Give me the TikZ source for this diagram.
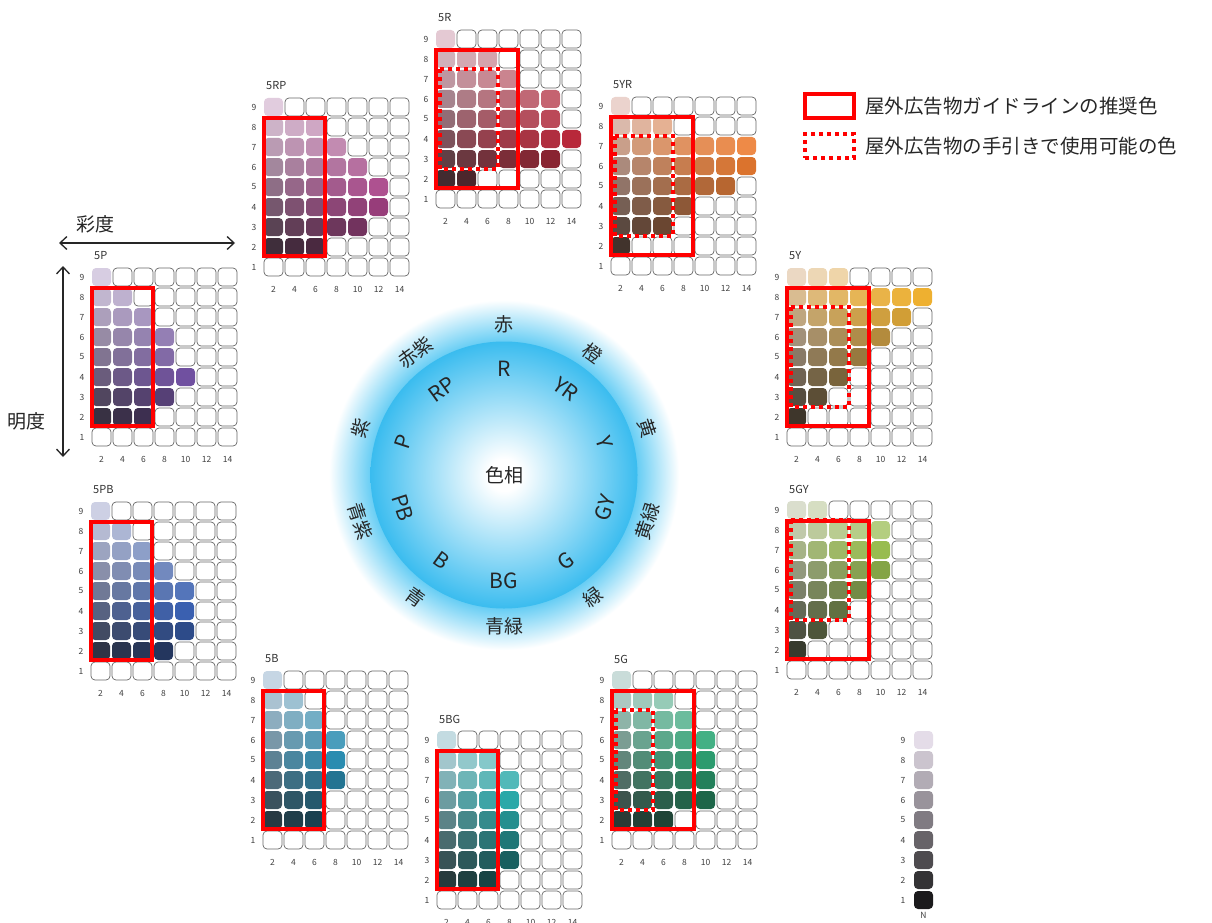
\documentclass[tikz,border=0pt]{standalone}
\usepackage{fontspec}
\setmainfont{Noto Sans CJK JP}
\usepackage{tikz}
\usetikzlibrary{positioning,arrows.meta}

\definecolor{lav}{HTML}{E4DCE8}
\definecolor{hR}{HTML}{B8283A}
\definecolor{hYR}{HTML}{EC7C30}
\definecolor{hY}{HTML}{EEB030}
\definecolor{hGY}{HTML}{98BC50}
\definecolor{hG}{HTML}{30A878}
\definecolor{hBG}{HTML}{2AA8A8}
\definecolor{hB}{HTML}{2A8CB0}
\definecolor{hPB}{HTML}{3A60B0}
\definecolor{hP}{HTML}{7050A0}
\definecolor{hRP}{HTML}{A84488}
\definecolor{skyedge}{HTML}{3ABCEF}
\definecolor{skyring}{HTML}{66CDF4}

\pgfdeclareradialshading{glowring}{\pgfpoint{0bp}{0bp}}{color(0bp)=(skyring); color(19bp)=(skyring); color(25bp)=(white); color(50bp)=(white)}
\pgfdeclareradialshading{wheelfill}{\pgfpoint{0bp}{0bp}}{color(0bp)=(white); color(3bp)=(white); color(25bp)=(skyedge); color(50bp)=(skyedge)}

% #1 name, #2 #3 grid corner, #4 hue, #5 value of strongest chip, #6 top chroma, #7 value/reach
\newcommand{\huechart}[7]{%
  \begin{scope}[shift={(#2,-#3)}]
    \node[chartname] (#1) at (3,11) {#1};
    \foreach \val/\reach in {#7} {
      \node[axisnum] (#1-n\val) at (-9,{-20*(9-\val)-10}) {\val};
      \foreach \i in {1,...,7} {
        \pgfmathtruncatemacro\c{2*\i}
        \ifnum\c>\reach
          \node[blank] (#1-\val-\c) at ({21*\i-10.5},{-20*(9-\val)-10}) {};
        \else
          \pgfmathsetmacro\ex{\val>6 ? 0.48 : 0.65}
          \pgfmathtruncatemacro\p{100*(\c/#6)^\ex}
          \pgfmathtruncatemacro\g{min(100,11*\val+1)}
          \colorlet{nv}{lav!\g!black}
          \ifdim\val pt<#5pt
            \pgfmathtruncatemacro\q{100-(#5-\val)/#5*85}
            \colorlet{hv}{#4!\q!black}
          \else
            \pgfmathtruncatemacro\q{100-(\val-#5)/(9.6-#5)*68}
            \colorlet{hv}{#4!\q!white}
          \fi
          \colorlet{cellcol}{hv!\p!nv}
          \node[chip, fill=cellcol] (#1-\val-\c) at ({21*\i-10.5},{-20*(9-\val)-10}) {};
        \fi
      }
    }
    \foreach \i in {1,...,7} {
      \pgfmathtruncatemacro\c{2*\i}
      \node[axisnum] (#1-b\c) at ({21*\i-10.5},-192) {\c};
    }
  \end{scope}
}

\begin{document}
\begin{tikzpicture}[x=1pt, y=1pt,
  chip/.style={rectangle, rounded corners=4pt, minimum width=19pt, minimum height=18pt, inner sep=0pt, outer sep=0pt},
  blank/.style={chip, draw=black!60, line width=0.7pt, fill=white},
  axisnum/.style={inner sep=0pt, text=black!75, font=\fontsize{8.5}{9}\selectfont},
  chartname/.style={anchor=west, inner sep=0pt, text=black!80, font=\fontsize{11}{12}\selectfont},
  guide/.style={draw=red, line width=4.5pt},
  allowed/.style={draw=red, line width=4pt, dash pattern=on 4pt off 4pt},
  huelabel/.style={inner sep=0pt, text=black!85, font=\fontsize{21}{22}\selectfont},
  namelabel/.style={inner sep=0pt, text=black!85, font=\fontsize{19}{20}\selectfont},
  keytext/.style={inner sep=0pt, text=black!85, font=\fontsize{19.5}{20}\selectfont},
  axisarrow/.style={<->, >={Straight Barb[length=7pt,width=13pt]}, line width=1.3pt, draw=black!85},
]
  \fill[white] (0,0) rectangle (1212,-923);
  \useasboundingbox (0,0) rectangle (1212,-923);

  \node[circle, minimum size=350pt, inner sep=0pt, shading=glowring] (glow) at (504,-475) {};
  \node[circle, minimum size=267pt, inner sep=0pt, shading=wheelfill] (wheel) at (glow.center) {};
  \node[namelabel] (hue-title) at (wheel.center) {色相};
  \foreach \ang/\en/\jp in {90/R/赤, 54/YR/橙, 18/Y/黄, -18/GY/黄緑, -54/G/緑,
                            -90/BG/青緑, -126/B/青, -162/PB/青紫, 162/P/紫, 126/RP/赤紫} {
    \pgfmathsetmacro\rot{\ang>0 ? \ang-90 : \ang+90}
    \node[huelabel, rotate=\rot] (hue-\en) at ([shift={(\ang:106)}]wheel.center) {\en};
    \node[namelabel, rotate=\rot] (name-\en) at ([shift={(\ang:151)}]wheel.center) {\jp};
  }

  \huechart{5R}{435}{29}{hR}{4}{14}{9/2,8/6,7/8,6/12,5/12,4/14,3/12,2/4,1/0}
  \huechart{5YR}{610}{96}{hYR}{6.5}{14}{9/2,8/6,7/14,6/14,5/12,4/8,3/6,2/2,1/0}
  \huechart{5Y}{786}{267}{hY}{8}{14}{9/6,8/14,7/12,6/10,5/8,4/6,3/4,2/2,1/0}
  \huechart{5GY}{786}{500}{hGY}{7}{10}{9/4,8/10,7/10,6/10,5/8,4/6,3/4,2/2,1/0}
  \huechart{5G}{611}{670}{hG}{5.5}{10}{9/2,8/6,7/8,6/10,5/10,4/10,3/10,2/6,1/0}
  \huechart{5BG}{436}{730}{hBG}{6}{8}{9/2,8/6,7/8,6/8,5/8,4/8,3/8,2/6,1/0}
  \huechart{5B}{262}{670}{hB}{5}{8}{9/2,8/4,7/6,6/8,5/8,4/8,3/6,2/6,1/0}
  \huechart{5PB}{90}{501}{hPB}{4}{10}{9/2,8/4,7/6,6/8,5/10,4/10,3/10,2/8,1/0}
  \huechart{5P}{91}{267}{hP}{4}{10}{9/2,8/4,7/6,6/8,5/8,4/10,3/8,2/6,1/0}
  \huechart{5RP}{263}{97}{hRP}{4.5}{12}{9/2,8/6,7/8,6/10,5/12,4/12,3/10,2/6,1/0}

  \foreach \h in {5R,5YR,5Y,5GY,5G}
    \draw[guide] (\h-8-2.north west) rectangle (\h-2-8.south east);
  \foreach \h in {5BG,5B,5PB,5P,5RP}
    \draw[guide] (\h-8-2.north west) rectangle (\h-2-6.south east);
  \foreach \h in {5R,5YR,5Y}
    \draw[allowed] ([shift={(4,1)}]\h-7-2.north west) rectangle ([shift={(1,-1)}]\h-3-6.south east);
  \draw[allowed] ([shift={(4,1)}]5GY-8-2.north west) rectangle ([shift={(1,-1)}]5GY-4-6.south east);
  \draw[allowed] ([shift={(4,1)}]5G-7-2.north west) rectangle ([shift={(1,-1)}]5G-3-4.south east);

  \coordinate (chroma-l) at (59,-243);
  \coordinate (chroma-r) at (235,-243);
  \draw[axisarrow] (chroma-l) -- (chroma-r);
  \node[namelabel] (chroma-name) at (95,-224) {彩度};
  \coordinate (value-t) at (63,-266);
  \coordinate (value-b) at (63,-457);
  \draw[axisarrow] (value-t) -- (value-b);
  \node[namelabel] (value-name) at (27,-421) {明度};

  \node[draw=red, line width=4.5pt, minimum width=49pt, minimum height=24pt, inner sep=0pt] (key-guide) at (829.5,-106) {};
  \node[keytext, right=9pt of key-guide] (key-guide-text) {屋外広告物ガイドラインの推奨色};
  \node[draw=red, line width=4pt, dash pattern=on 4pt off 4pt, minimum width=49pt, minimum height=24pt, inner sep=0pt] (key-allowed) at (829.5,-146) {};
  \node[keytext, right=9pt of key-allowed] (key-allowed-text) {屋外広告物の手引きで使用可能の色};

  \foreach \val in {1,...,9} {
    \pgfmathtruncatemacro\g{min(100,11*\val+1)}
    \colorlet{nv}{lav!\g!black}
    \node[chip, fill=nv] (N-\val) at (923.5,{-740-20*(9-\val)}) {};
    \node[axisnum] (N-n\val) at (903,{-740-20*(9-\val)}) {\val};
  }
  \node[axisnum, below=3pt of N-1] (N-name) {N};
\end{tikzpicture}
\end{document}
